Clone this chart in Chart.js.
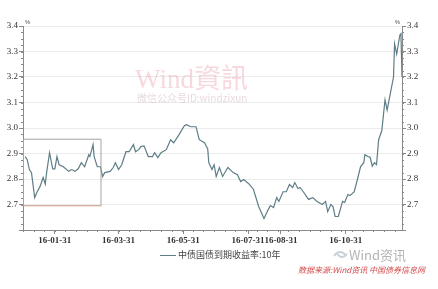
<!DOCTYPE html>
<html>
<head>
<meta charset="utf-8">
<script src="https://cdn.jsdelivr.net/npm/chart.js@4/dist/chart.umd.min.js"></script>
<style>
  html, body { margin: 0; padding: 0; background: #fff; }
  #wrap { width: 438px; height: 289px; }
</style>
</head>
<body>
<div id="wrap"><canvas id="yieldChart" width="438" height="289"></canvas></div>
<script>
// days since 2016-01-01
const dayIndex = [2, 4, 6, 8, 11, 13, 16, 19, 21, 22, 25, 28, 30, 32, 34, 38, 43, 46, 49, 52,
  55, 58, 62, 63, 66, 67, 70, 73, 75, 77, 82, 85, 87, 90, 93, 97, 100, 104, 106, 109,
  111, 114, 118, 122, 124, 127, 130, 135, 139, 142, 147, 152, 154, 158, 163, 166, 171, 174, 175, 178,
  180, 182, 185, 188, 193, 198, 202, 205, 208, 213, 217, 222, 227, 231, 233, 236, 239, 241, 245, 248,
  251, 254, 256, 259, 261, 264, 269, 273, 277, 282, 285, 287, 290, 292, 294, 297, 301, 303, 306, 308,
  312, 315, 318, 321, 322, 325, 327, 329, 331, 333, 335, 338, 341, 343, 349, 350, 352, 355, 356, 357];
// 中债国债到期收益率:10年 (%)
const yields = [2.888, 2.876, 2.837, 2.825, 2.727, 2.747, 2.770, 2.806, 2.780, 2.817, 2.903, 2.840, 2.840, 2.888, 2.856, 2.848, 2.830, 2.837, 2.830, 2.840,
  2.864, 2.848, 2.895, 2.888, 2.935, 2.888, 2.848, 2.848, 2.810, 2.825, 2.830, 2.845, 2.864, 2.837, 2.856, 2.907, 2.907, 2.935, 2.907, 2.915,
  2.927, 2.930, 2.888, 2.888, 2.903, 2.884, 2.903, 2.915, 2.954, 2.942, 2.974, 3.009, 3.013, 3.005, 3.005, 2.954, 2.942, 2.918, 2.864, 2.837,
  2.856, 2.810, 2.845, 2.810, 2.845, 2.825, 2.817, 2.790, 2.798, 2.780, 2.760, 2.692, 2.645, 2.680, 2.696, 2.688, 2.727, 2.712, 2.750, 2.750,
  2.778, 2.767, 2.786, 2.763, 2.767, 2.750, 2.720, 2.727, 2.712, 2.700, 2.712, 2.672, 2.700, 2.692, 2.653, 2.653, 2.712, 2.708, 2.739, 2.735,
  2.750, 2.798, 2.849, 2.864, 2.895, 2.888, 2.885, 2.850, 2.864, 2.856, 2.954, 2.990, 3.110, 3.070, 3.200, 3.330, 3.290, 3.365, 3.370, 3.200];

const tickDays = [30, 90, 151, 212, 243, 304];
const tickLabels = ['16-01-31', '16-03-31', '16-05-31', '16-07-31', '16-08-31', '16-10-31'];
const yTicks = [2.6, 2.7, 2.8, 2.9, 3.0, 3.1, 3.2, 3.3, 3.4];
const seriesName = '中债国债到期收益率:10年';

const lineColor = '#5e7d86';
const axisColor = '#8a8a8a';

Chart.defaults.font.family = "'Liberation Serif', 'Noto Sans CJK SC', serif";

// box, minor ticks, watermark, legend and source text
const decorPlugin = {
  id: 'decor',
  beforeDatasetsDraw(chart) {
    const ctx = chart.ctx;
    ctx.save();
    ctx.fillStyle = 'rgba(236, 160, 170, 0.4)';
    ctx.font = "27px 'Liberation Serif', 'Noto Sans CJK TC', serif";
    ctx.textBaseline = 'alphabetic';
    ctx.fillText('Wind資訊', 135, 88);
    ctx.fillStyle = 'rgba(205, 170, 176, 0.45)';
    ctx.font = "10px 'Noto Sans CJK SC', sans-serif";
    ctx.fillText('微信公众号ID:windzixun', 137, 102);
    ctx.restore();
  },
  afterDraw(chart) {
    const ctx = chart.ctx;
    const x = chart.scales.x, y = chart.scales.y, area = chart.chartArea;
    ctx.save();

    // highlight box over January-February
    const bx0 = x.getPixelForValue(0), bx1 = x.getPixelForValue(73);
    const by0 = y.getPixelForValue(2.958), by1 = y.getPixelForValue(2.697);
    ctx.lineWidth = 1;
    ctx.strokeStyle = '#a8a29c';
    ctx.beginPath();
    ctx.moveTo(bx0 + 0.5, by1); ctx.lineTo(bx0 + 0.5, by0 + 0.5);
    ctx.lineTo(bx1 + 0.5, by0 + 0.5); ctx.lineTo(bx1 + 0.5, by1);
    ctx.stroke();
    ctx.strokeStyle = '#c89484';
    ctx.beginPath();
    ctx.moveTo(bx0, by1 + 0.5); ctx.lineTo(bx1 + 1, by1 + 0.5);
    ctx.stroke();

    // minor ticks on both y axes
    ctx.strokeStyle = axisColor;
    for (let v = 2.6; v <= 3.4001; v += 0.025) {
      const py = Math.round(y.getPixelForValue(v)) + 0.5;
      ctx.beginPath();
      ctx.moveTo(area.left - 2, py); ctx.lineTo(area.left, py);
      ctx.moveTo(area.right, py); ctx.lineTo(area.right + 2, py);
      ctx.stroke();
    }
    // minor ticks on x axis
    for (let d = 0; d <= 357; d += 10) {
      const px = Math.round(x.getPixelForValue(d)) + 0.5;
      ctx.beginPath();
      ctx.moveTo(px, area.bottom); ctx.lineTo(px, area.bottom + 2);
      ctx.stroke();
    }

    // unit marks
    ctx.fillStyle = '#555';
    ctx.font = "6px 'Liberation Sans', sans-serif";
    ctx.textAlign = 'left';
    ctx.fillText('%', area.left + 2, area.top - 2);
    ctx.textAlign = 'right';
    ctx.fillText('%', area.right - 2, area.top - 2);

    // legend
    ctx.strokeStyle = lineColor;
    ctx.lineWidth = 1;
    ctx.beginPath();
    ctx.moveTo(160, 255.5); ctx.lineTo(176, 255.5);
    ctx.stroke();
    ctx.fillStyle = '#444';
    ctx.textAlign = 'left';
    ctx.textBaseline = 'middle';
    ctx.font = "9px 'Noto Sans CJK SC', sans-serif";
    ctx.fillText(seriesName, 178, 255);

    // Wind logo
    ctx.strokeStyle = '#c8d2da';
    ctx.lineWidth = 2;
    ctx.beginPath();
    ctx.arc(340, 258, 6, Math.PI * 1.1, Math.PI * 1.9);
    ctx.stroke();
    ctx.beginPath();
    ctx.arc(342, 252, 5, Math.PI * 0.1, Math.PI * 0.9);
    ctx.stroke();
    ctx.fillStyle = '#b4b4b4';
    ctx.font = "13px 'Noto Sans CJK SC', sans-serif";
    ctx.fillText('Wind资讯', 349, 255);

    // source note
    ctx.fillStyle = '#d24a4a';
    ctx.font = "italic 8px 'Noto Sans CJK SC', sans-serif";
    ctx.fillText('数据来源:Wind资讯 中国债券信息网', 298, 270);
    ctx.restore();
  }
};

const ctx = document.getElementById('yieldChart').getContext('2d');
new Chart(ctx, {
  type: 'line',
  data: {
    datasets: [{
      label: seriesName,
      data: dayIndex.map((d, i) => ({ x: d, y: yields[i] })),
      borderColor: lineColor,
      borderWidth: 1.2,
      pointRadius: 0,
      tension: 0,
      fill: false
    }]
  },
  options: {
    responsive: false,
    animation: false,
    layout: { padding: { top: 26, left: 0, right: 0, bottom: 0 } },
    plugins: { legend: { display: false }, tooltip: { enabled: false } },
    scales: {
      x: {
        type: 'linear',
        min: 0,
        max: 357,
        afterBuildTicks: (s) => { s.ticks = tickDays.map(v => ({ value: v })); },
        afterFit: (s) => { s.height = 59; },
        ticks: {
          autoSkip: false,
          maxRotation: 0,
          padding: 1,
          color: '#333',
          font: { size: 9, weight: 'bold' },
          callback: (v) => tickLabels[tickDays.indexOf(v)] || ''
        },
        grid: { display: true, drawOnChartArea: false, tickLength: 4, color: axisColor },
        border: { color: axisColor }
      },
      y: {
        position: 'left',
        min: 2.6,
        max: 3.4,
        afterBuildTicks: (s) => { s.ticks = yTicks.map(v => ({ value: v })); },
        afterFit: (s) => { s.width = 23; },
        ticks: {
          padding: 1,
          color: '#333',
          font: { size: 9 },
          callback: (v) => v < 2.65 ? '' : v.toFixed(1)
        },
        grid: {
          color: (c) => c.tick && c.tick.value < 2.65 ? 'rgba(0,0,0,0)' : '#ebebeb',
          tickColor: axisColor,
          tickLength: 4
        },
        border: { color: axisColor }
      },
      y2: {
        position: 'right',
        min: 2.6,
        max: 3.4,
        afterBuildTicks: (s) => { s.ticks = yTicks.map(v => ({ value: v })); },
        afterFit: (s) => { s.width = 36; },
        ticks: {
          padding: 1,
          color: '#333',
          font: { size: 9 },
          callback: (v) => v < 2.65 ? '' : v.toFixed(1)
        },
        grid: { drawOnChartArea: false, tickLength: 4, color: axisColor },
        border: { color: axisColor }
      }
    }
  },
  plugins: [decorPlugin]
});
</script>
</body>
</html>
